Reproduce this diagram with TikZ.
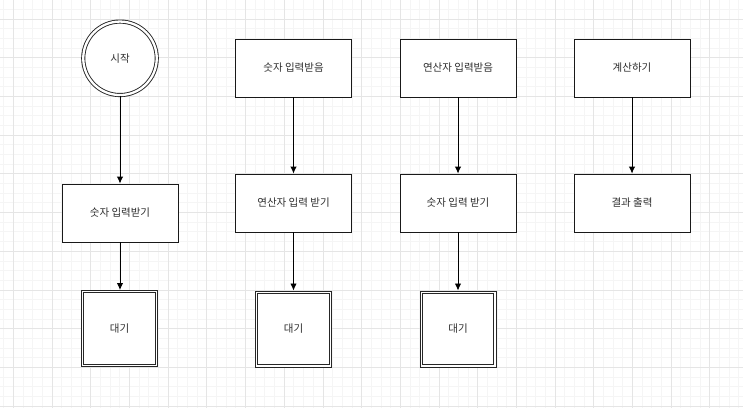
\documentclass[tikz,border=0pt]{standalone}
\usepackage{fontspec}
\newfontfamily\kr{Noto Sans CJK KR}
\usetikzlibrary{arrows.meta}
\begin{document}
\begin{tikzpicture}[x=1pt,y=-1pt,
  lbl/.style={font=\kr\fontsize{10.5}{12}\selectfont, text=black!82},
  box/.style={lbl, draw=black!90, line width=0.9pt, fill=white, minimum width=116pt, minimum height=58pt, inner sep=0pt},
  waitbox/.style={lbl, draw=black!85, line width=1pt, fill=white, minimum width=76pt, minimum height=76pt, inner sep=0pt},
  innerline/.style={draw=black!85, line width=0.9pt},
  startnode/.style={lbl, circle, draw=black!85, double=white, double distance=2.3pt, line width=0.9pt, fill=white, minimum size=73.5pt, inner sep=0pt},
  arr/.style={draw=black, line width=0.9pt, -{Latex[length=7pt,width=6.5pt]}},
  minorgrid/.style={draw=black!4, line width=0.6pt},
  majorgrid/.style={draw=black!10, line width=0.6pt}
]
\useasboundingbox (0,0) rectangle (743,408);
\fill[white] (0,0) rectangle (743,408);
% grid
\foreach \i in {0,...,77} {
  \pgfmathsetmacro\gx{3.63+9.672*\i}
  \draw[minorgrid] (\gx,0) -- (\gx,408);
}
\foreach \i in {0,...,42} {
  \pgfmathsetmacro\gy{-0.34+9.672*\i}
  \draw[minorgrid] (0,\gy) -- (743,\gy);
}
\foreach \i in {0,...,19} {
  \pgfmathsetmacro\gx{13.3+38.69*\i}
  \draw[majorgrid] (\gx,0) -- (\gx,408);
}
\foreach \i in {0,...,10} {
  \pgfmathsetmacro\gy{19+38.69*\i}
  \draw[majorgrid] (0,\gy) -- (743,\gy);
}
% column 1
\node[startnode] (s) at (120,58.3) {시작};
\node[box] (a1) at (120,213) {숫자 입력받기};
\node[waitbox] (w1) at (119.5,328.5) {대기};
% column 2
\node[box] (b1) at (293.5,68) {숫자 입력받음};
\node[box] (b2) at (293.5,203) {연산자 입력 받기};
\node[waitbox] (w2) at (293.5,329) {대기};
% column 3
\node[box] (c1) at (458,68) {연산자 입력받음};
\node[box] (c2) at (458,203) {숫자 입력 받기};
\node[waitbox] (w3) at (458,329) {대기};
% column 4
\node[box] (d1) at (632,68) {계산하기};
\node[box] (d2) at (632,203) {결과 출력};
% inner lines of the double boxes
\foreach \w in {w1,w2,w3} {
  \draw[innerline] ([shift={(2.6pt,-2.6pt)}]\w.north west) rectangle ([shift={(-2.6pt,2.6pt)}]\w.south east);
}
% connectors
\draw[arr] (s) -- (a1);
\draw[arr] (a1) -- (w1.north -| a1.south);
\draw[arr] (b1) -- (b2);
\draw[arr] (b2) -- (w2);
\draw[arr] (c1) -- (c2);
\draw[arr] (c2) -- (w3);
\draw[arr] (d1) -- (d2);
\end{tikzpicture}
\end{document}
